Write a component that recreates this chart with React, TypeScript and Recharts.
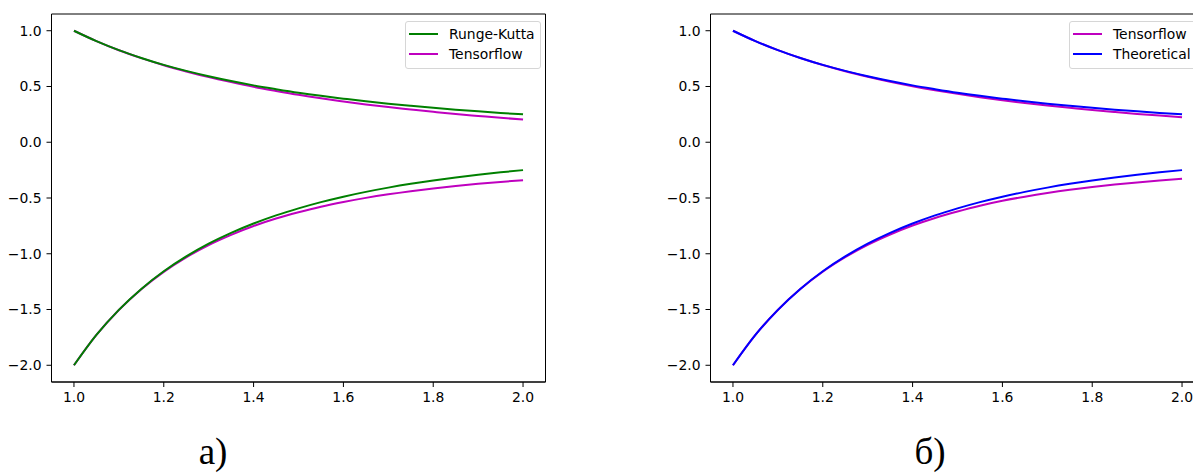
import React from 'react';
import { LineChart, Line, XAxis, YAxis, Legend, ReferenceArea } from 'recharts';

// Sample positions along the x axis
const xValues = [
  1.0, 1.05, 1.1, 1.15, 1.2, 1.25, 1.3, 1.35, 1.4, 1.45, 1.5,
  1.55, 1.6, 1.65, 1.7, 1.75, 1.8, 1.85, 1.9, 1.95, 2.0,
];

// Panel а): Runge-Kutta vs Tensorflow
const rungeKuttaUpper = [
  1.0, 0.907, 0.826, 0.756, 0.694, 0.64, 0.592, 0.549, 0.51, 0.476, 0.444,
  0.416, 0.391, 0.367, 0.346, 0.327, 0.309, 0.292, 0.277, 0.263, 0.25,
];
const rungeKuttaLower = [
  -2.0, -1.728, -1.503, -1.315, -1.157, -1.024, -0.91, -0.813, -0.729, -0.656, -0.593,
  -0.537, -0.488, -0.445, -0.407, -0.373, -0.343, -0.316, -0.292, -0.27, -0.25,
];
const tensorflowUpperA = [
  1.0, 0.907, 0.825, 0.754, 0.691, 0.635, 0.584, 0.539, 0.497, 0.46, 0.425,
  0.394, 0.366, 0.339, 0.315, 0.294, 0.273, 0.253, 0.236, 0.219, 0.204,
];
const tensorflowLowerA = [
  -2.0, -1.728, -1.504, -1.318, -1.162, -1.032, -0.922, -0.83, -0.751, -0.684, -0.628,
  -0.578, -0.536, -0.499, -0.467, -0.439, -0.414, -0.392, -0.373, -0.356, -0.34,
];

// Panel б): Tensorflow vs Theoretical
const theoreticalUpper = [
  1.0, 0.907, 0.826, 0.756, 0.694, 0.64, 0.592, 0.549, 0.51, 0.476, 0.444,
  0.416, 0.391, 0.367, 0.346, 0.327, 0.309, 0.292, 0.277, 0.263, 0.25,
];
const theoreticalLower = [
  -2.0, -1.728, -1.503, -1.315, -1.157, -1.024, -0.91, -0.813, -0.729, -0.656, -0.593,
  -0.537, -0.488, -0.445, -0.407, -0.373, -0.343, -0.316, -0.292, -0.27, -0.25,
];
const tensorflowUpperB = [
  1.0, 0.907, 0.826, 0.755, 0.692, 0.637, 0.588, 0.543, 0.503, 0.467, 0.434,
  0.404, 0.377, 0.352, 0.329, 0.309, 0.289, 0.271, 0.254, 0.239, 0.224,
];
const tensorflowLowerB = [
  -2.0, -1.728, -1.504, -1.317, -1.161, -1.031, -0.92, -0.827, -0.747, -0.679, -0.621,
  -0.569, -0.525, -0.488, -0.455, -0.426, -0.401, -0.379, -0.36, -0.343, -0.328,
];

// Axis ticks
const xTicks = [1.0, 1.2, 1.4, 1.6, 1.8, 2.0];
const yTicks = [-2.0, -1.5, -1.0, -0.5, 0.0, 0.5, 1.0];
const xDomain: [number, number] = [0.95, 2.05];
const yDomain: [number, number] = [-2.15, 1.15];

const panelLabels = ['а)', 'б)'];

const GREEN = '#008000';
const MAGENTA = '#bf00bf';
const BLUE = '#0000ff';
const FONT = '"DejaVu Sans", Verdana, sans-serif';
const FS = 13.9;

const rowsA = xValues.map((x, i) => ({
  x,
  rkU: rungeKuttaUpper[i],
  rkL: rungeKuttaLower[i],
  tfU: tensorflowUpperA[i],
  tfL: tensorflowLowerA[i],
}));

const rowsB = xValues.map((x, i) => ({
  x,
  thU: theoreticalUpper[i],
  thL: theoreticalLower[i],
  tfU: tensorflowUpperB[i],
  tfL: tensorflowLowerB[i],
}));

type LegendItem = { label: string; color: string };
type SeriesDef = { key: string; color: string };

const fmtY = (v: number) => (v < 0 ? '\u2212' : '') + Math.abs(v).toFixed(1);
const fmtX = (v: number) => v.toFixed(1);

function LegendBox({ items }: { items: LegendItem[] }) {
  return (
    <div
      style={{
        border: '1px solid #d6d6d6',
        borderRadius: 3,
        background: 'rgba(255,255,255,0.8)',
        padding: '2px 5px 4px 3px',
        fontFamily: FONT,
        fontSize: FS,
        color: '#000',
        whiteSpace: 'nowrap',
        boxSizing: 'border-box',
      }}
    >
      {items.map((it) => (
        <div key={it.label} style={{ display: 'flex', alignItems: 'center', height: 20 }}>
          <span
            style={{
              display: 'inline-block',
              width: 29,
              height: 2,
              background: it.color,
              marginRight: 11,
            }}
          />
          <span>{it.label}</span>
        </div>
      ))}
    </div>
  );
}

function Panel({
  rows,
  series,
  legend,
  legendLeft,
}: {
  rows: any[];
  series: SeriesDef[];
  legend: LegendItem[];
  legendLeft: number;
}) {
  return (
    <LineChart
      width={560}
      height={474}
      data={rows}
      margin={{ top: 14, right: 14.5, bottom: 52, left: 0 }}
    >
      <XAxis
        dataKey="x"
        type="number"
        domain={xDomain}
        ticks={xTicks}
        tickFormatter={fmtX}
        allowDataOverflow
        height={40}
        tickSize={5}
        tickMargin={5}
        axisLine={{ stroke: '#000', strokeWidth: 1 }}
        tickLine={{ stroke: '#000', strokeWidth: 1 }}
        tick={{ fill: '#000', fontSize: FS, fontFamily: FONT }}
      />
      <YAxis
        type="number"
        domain={yDomain}
        ticks={yTicks}
        tickFormatter={fmtY}
        allowDataOverflow
        width={51.5}
        tickSize={5}
        tickMargin={5}
        axisLine={{ stroke: '#000', strokeWidth: 1 }}
        tickLine={{ stroke: '#000', strokeWidth: 1 }}
        tick={{ fill: '#000', fontSize: FS, fontFamily: FONT }}
      />
      <ReferenceArea
        x1={xDomain[0]}
        x2={xDomain[1]}
        y1={yDomain[0]}
        y2={yDomain[1]}
        fill="none"
        fillOpacity={0}
        stroke="#000"
        strokeWidth={1}
        ifOverflow="visible"
      />
      {series.map((s) => (
        <Line
          key={s.key}
          dataKey={s.key}
          type="monotone"
          stroke={s.color}
          strokeWidth={2}
          dot={false}
          activeDot={false}
          legendType="none"
          isAnimationActive={false}
        />
      ))}
      <Legend
        layout="horizontal"
        align="center"
        verticalAlign="middle"
        wrapperStyle={{ left: legendLeft, top: 21, width: 'auto', right: 'auto', bottom: 'auto' }}
        content={() => <LegendBox items={legend} />}
      />
    </LineChart>
  );
}

export default function App() {
  return (
    <div
      style={{
        position: 'absolute',
        left: 0,
        top: 0,
        width: 1193,
        height: 474,
        overflow: 'hidden',
        background: '#fff',
      }}
    >
      <div style={{ position: 'absolute', left: 0, top: 0 }}>
        <Panel
          rows={rowsA}
          series={[
            { key: 'tfU', color: MAGENTA },
            { key: 'tfL', color: MAGENTA },
            { key: 'rkU', color: GREEN },
            { key: 'rkL', color: GREEN },
          ]}
          legend={[
            { label: 'Runge-Kutta', color: GREEN },
            { label: 'Tensorflow', color: MAGENTA },
          ]}
          legendLeft={405}
        />
      </div>
      <div style={{ position: 'absolute', left: 659, top: 0 }}>
        <Panel
          rows={rowsB}
          series={[
            { key: 'tfU', color: MAGENTA },
            { key: 'tfL', color: MAGENTA },
            { key: 'thU', color: BLUE },
            { key: 'thL', color: BLUE },
          ]}
          legend={[
            { label: 'Tensorflow', color: MAGENTA },
            { label: 'Theoretical', color: BLUE },
          ]}
          legendLeft={410}
        />
      </div>
      <svg
        width={1193}
        height={474}
        style={{ position: 'absolute', left: 0, top: 0, pointerEvents: 'none' }}
      >
        <text
          x={213}
          y={464}
          textAnchor="middle"
          fontFamily='"Liberation Serif", serif'
          fontSize={37}
          fill="#000"
        >
          {panelLabels[0]}
        </text>
        <text
          x={930}
          y={464}
          textAnchor="middle"
          fontFamily='"Liberation Serif", serif'
          fontSize={37}
          fill="#000"
        >
          {panelLabels[1]}
        </text>
      </svg>
    </div>
  );
}
